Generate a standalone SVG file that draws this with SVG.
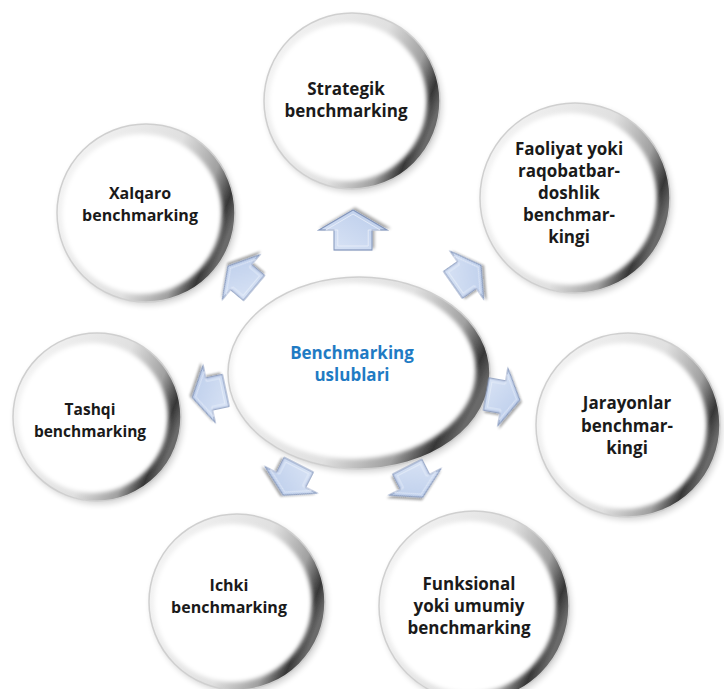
<svg xmlns="http://www.w3.org/2000/svg" width="724" height="689" viewBox="0 0 724 689">
  <defs>
    <!-- grey rim of each glass bead: light on the left, dark on the right -->
    <linearGradient id="rim" x1="0.05" y1="0.3" x2="0.95" y2="0.65">
      <stop offset="0" stop-color="#f2f2f2"/>
      <stop offset="0.55" stop-color="#e0e0e0"/>
      <stop offset="0.8" stop-color="#a0a0a0"/>
      <stop offset="0.93" stop-color="#363636"/>
      <stop offset="1" stop-color="#6a6a6a"/>
    </linearGradient>
    <linearGradient id="arrowFill" x1="0" y1="0" x2="1" y2="1">
      <stop offset="0" stop-color="#dbe5f6"/>
      <stop offset="1" stop-color="#b9cbea"/>
    </linearGradient>
    <filter id="soft" x="-10%" y="-10%" width="120%" height="120%">
      <feGaussianBlur stdDeviation="2"/>
    </filter>
    <filter id="beadShadow" x="-20%" y="-20%" width="140%" height="140%">
      <feGaussianBlur in="SourceAlpha" stdDeviation="3"/>
      <feOffset dx="2" dy="3" result="b"/>
      <feComponentTransfer><feFuncA type="linear" slope="0.18"/></feComponentTransfer>
      <feMerge><feMergeNode/><feMergeNode in="SourceGraphic"/></feMerge>
    </filter>
    <filter id="arrowShadow" x="-30%" y="-30%" width="160%" height="160%">
      <feGaussianBlur in="SourceAlpha" stdDeviation="1.5"/>
      <feOffset dx="2" dy="2" result="b"/>
      <feComponentTransfer><feFuncA type="linear" slope="0.35"/></feComponentTransfer>
      <feMerge><feMergeNode/><feMergeNode in="SourceGraphic"/></feMerge>
    </filter>
    <!-- block arrow pointing right, centred on the origin -->
    <polygon id="blockArrow" points="20,0 0,-34 0,-19 -20,-19 -20,19 0,19 0,34"/>
  </defs>
  <style>
    .rim { fill: url(#rim); filter: url(#beadShadow); }
    .core { fill: #ffffff; filter: url(#soft); }
    .edge { fill: none; stroke: #cfcfcf; stroke-width: 1.5; }
    .label { font-family: "Open Sans", "Liberation Sans", sans-serif; font-weight: 700; font-size: 17px; fill: #1a1a1a; text-anchor: middle; }
    .small { font-size: 15.5px; }
    .mid { font-size: 16px; }
    .hub { fill: #1f7bc4; }
    .arrow { fill: url(#arrowFill); stroke: #8295bb; stroke-width: 1.2; stroke-linejoin: miter; }
    .bevel { fill: none; stroke: #eef3fb; stroke-width: 1; opacity: 0.9; }
  </style>

  <!-- central hub -->
  <g id="hub">
    <ellipse class="rim" cx="359" cy="373" rx="131" ry="96"/>
    <ellipse class="core" cx="354" cy="371" rx="122" ry="88"/>
    <ellipse class="edge" cx="359" cy="373" rx="131" ry="96"/>
    <text class="label hub" x="352" y="359">Benchmarking</text>
    <text class="label hub" x="352" y="381">uslublari</text>
  </g>

  <!-- arrows from the hub to each method -->
  <g id="connectors">
    <g transform="translate(353,230) rotate(-90)" filter="url(#arrowShadow)">
      <use href="#blockArrow" class="arrow"/>
      <use href="#blockArrow" class="bevel" transform="scale(0.8)"/>
    </g>
    <g transform="translate(241,277) rotate(-140) scale(0.85)" filter="url(#arrowShadow)">
      <use href="#blockArrow" class="arrow"/>
      <use href="#blockArrow" class="bevel" transform="scale(0.8)"/>
    </g>
    <g transform="translate(467,275) rotate(-35) scale(0.85)" filter="url(#arrowShadow)">
      <use href="#blockArrow" class="arrow"/>
      <use href="#blockArrow" class="bevel" transform="scale(0.8)"/>
    </g>
    <g transform="translate(503,397) rotate(10) scale(0.85)" filter="url(#arrowShadow)">
      <use href="#blockArrow" class="arrow"/>
      <use href="#blockArrow" class="bevel" transform="scale(0.8)"/>
    </g>
    <g transform="translate(209,394) rotate(168) scale(0.85)" filter="url(#arrowShadow)">
      <use href="#blockArrow" class="arrow"/>
      <use href="#blockArrow" class="bevel" transform="scale(0.8)"/>
    </g>
    <g transform="translate(291,480) rotate(117) scale(0.85)" filter="url(#arrowShadow)">
      <use href="#blockArrow" class="arrow"/>
      <use href="#blockArrow" class="bevel" transform="scale(0.8)"/>
    </g>
    <g transform="translate(415,482) rotate(63) scale(0.85)" filter="url(#arrowShadow)">
      <use href="#blockArrow" class="arrow"/>
      <use href="#blockArrow" class="bevel" transform="scale(0.8)"/>
    </g>
  </g>

  <!-- method beads -->
  <g id="strategik">
    <circle class="rim" cx="352" cy="101" r="88"/>
    <circle class="core" cx="348" cy="102" r="79"/>
    <circle class="edge" cx="352" cy="101" r="88"/>
    <text class="label" x="346" y="95">Strategik</text>
    <text class="label" x="346" y="117">benchmarking</text>
  </g>

  <g id="faoliyat">
    <circle class="rim" cx="575" cy="198" r="95"/>
    <circle class="core" cx="571" cy="199" r="86"/>
    <circle class="edge" cx="575" cy="198" r="95"/>
    <text class="label" x="569" y="155">Faoliyat yoki</text>
    <text class="label" x="569" y="177">raqobatbar-</text>
    <text class="label" x="569" y="199">doshlik</text>
    <text class="label" x="569" y="221">benchmar-</text>
    <text class="label" x="569" y="243">kingi</text>
  </g>

  <g id="xalqaro">
    <circle class="rim" cx="146" cy="213" r="89"/>
    <circle class="core" cx="142" cy="214" r="80"/>
    <circle class="edge" cx="146" cy="213" r="89"/>
    <text class="label mid" x="140" y="199">Xalqaro</text>
    <text class="label mid" x="140" y="221">benchmarking</text>
  </g>

  <g id="tashqi">
    <circle class="rim" cx="97" cy="417" r="84"/>
    <circle class="core" cx="93" cy="418" r="75"/>
    <circle class="edge" cx="97" cy="417" r="84"/>
    <text class="label small" x="90" y="415">Tashqi</text>
    <text class="label small" x="90" y="437">benchmarking</text>
  </g>

  <g id="jarayonlar">
    <circle class="rim" cx="628" cy="425" r="92"/>
    <circle class="core" cx="624" cy="426" r="83"/>
    <circle class="edge" cx="628" cy="425" r="92"/>
    <text class="label" x="627" y="409">Jarayonlar</text>
    <text class="label" x="627" y="432">benchmar-</text>
    <text class="label" x="627" y="454">kingi</text>
  </g>

  <g id="ichki">
    <circle class="rim" cx="237" cy="602" r="88"/>
    <circle class="core" cx="233" cy="603" r="79"/>
    <circle class="edge" cx="237" cy="602" r="88"/>
    <text class="label mid" x="229" y="591">Ichki</text>
    <text class="label mid" x="229" y="613">benchmarking</text>
  </g>

  <g id="funksional">
    <circle class="rim" cx="474" cy="606" r="95"/>
    <circle class="core" cx="470" cy="607" r="86"/>
    <circle class="edge" cx="474" cy="606" r="95"/>
    <text class="label" x="469" y="590">Funksional</text>
    <text class="label" x="469" y="612">yoki umumiy</text>
    <text class="label" x="469" y="634">benchmarking</text>
  </g>
</svg>
